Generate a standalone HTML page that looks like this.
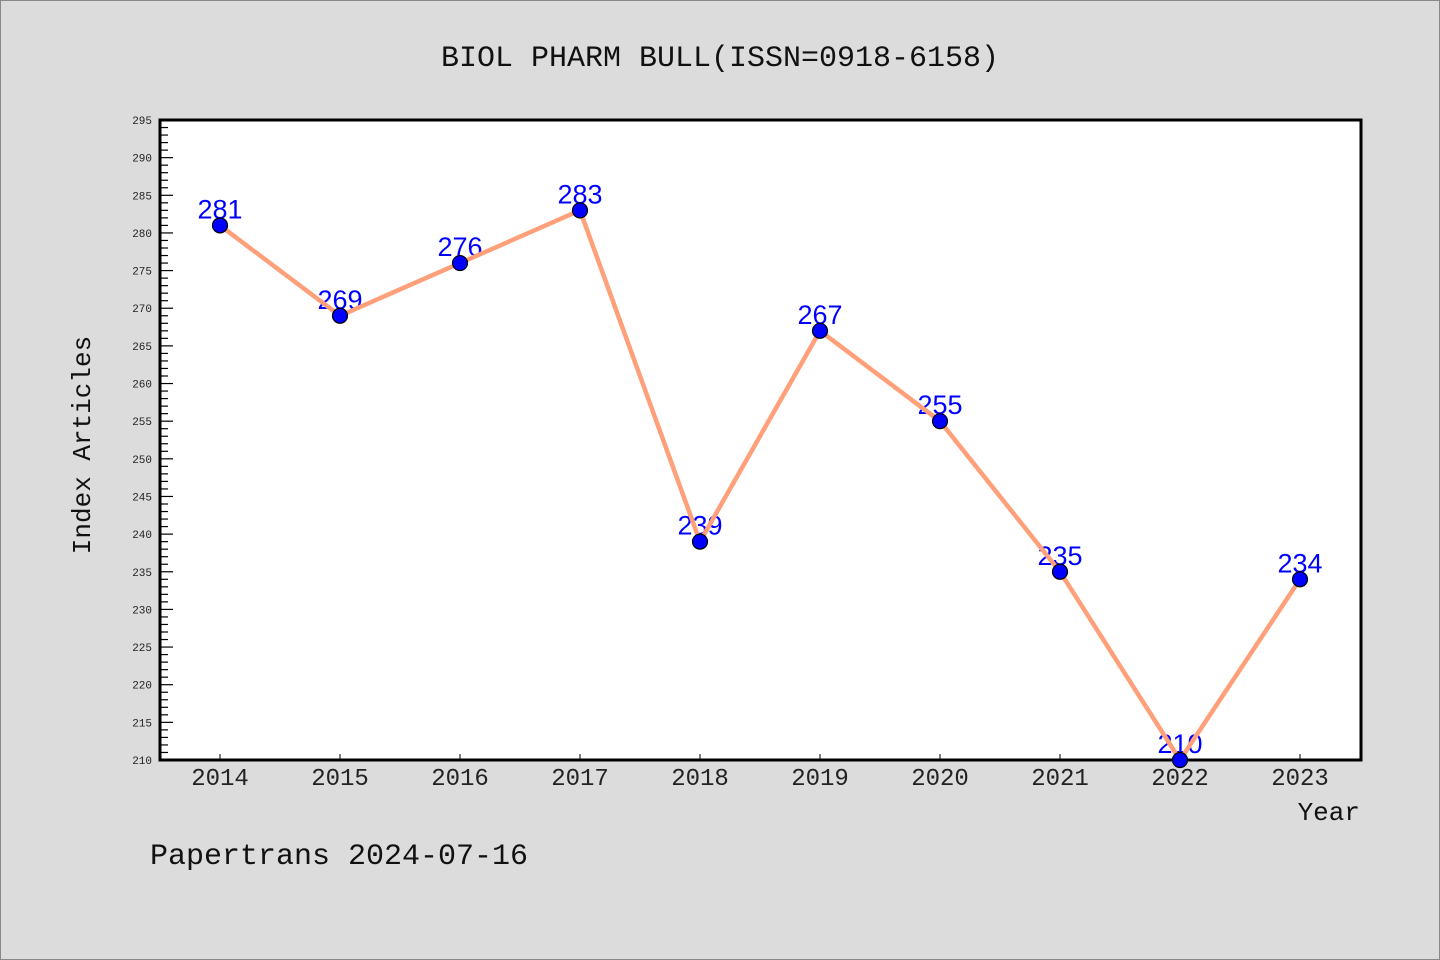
<!DOCTYPE html>
<html><head><meta charset="utf-8"><style>
html,body{margin:0;padding:0;background:#dcdcdc;}
svg{display:block;font-family:"Liberation Mono","DejaVu Sans Mono",monospace;}
</style></head><body>
<svg id="chart" width="1440" height="960">
<rect x="0.5" y="0.5" width="1439" height="959" fill="#dcdcdc" stroke="#888"/>
<text x="720" y="66" text-anchor="middle" font-size="30" fill="#111">BIOL PHARM BULL(ISSN=0918-6158)</text>
<rect x="160" y="120" width="1201" height="640" fill="#fff" stroke="#000" stroke-width="3"/>
<g id="yticks"></g>
<g id="xticks"></g>
<text transform="translate(90,445) rotate(-90)" text-anchor="middle" font-size="26" fill="#111">Index Articles</text>
<text x="1360" y="820" text-anchor="end" font-size="26" fill="#111">Year</text>
<text x="150" y="864" font-size="30" fill="#111">Papertrans 2024-07-16</text>
<g id="labels"></g><g id="line"></g><g id="points"></g>
</svg>
<script>
const years=[2014,2015,2016,2017,2018,2019,2020,2021,2022,2023];
const values=[281,269,276,283,239,267,255,235,210,234];
const yTickLabels=[210,215,220,225,230,235,240,245,250,255,260,265,270,275,280,285,290,295];
const NS="http://www.w3.org/2000/svg";
const yMin=210,yMax=295,plotTop=120,plotBot=760,plotLeft=160;
function ys(v){return plotBot-(v-yMin)/(yMax-yMin)*(plotBot-plotTop);}
function xs(i){return 220+i*120;}
function mk(t,a,p){const e=document.createElementNS(NS,t);for(const k in a)e.setAttribute(k,a[k]);p.appendChild(e);return e;}
const yg=document.getElementById('yticks');
for(let v=yMin;v<=yMax;v++){const major=(v%5===0);
 const l=mk('line',{x1:plotLeft,x2:plotLeft+(major?13:8),y1:ys(v),y2:ys(v),stroke:'#000','stroke-width':1.2},yg);
 
 }
yTickLabels.forEach(v=>{const t=mk('text',{x:152,y:ys(v)+4,'text-anchor':'end','font-size':11,fill:'#222'},yg);t.textContent=v;
 
 });
const xg=document.getElementById('xticks');
years.forEach((y,i)=>{const l=mk('line',{x1:xs(i),x2:xs(i),y1:plotBot,y2:plotBot-6,stroke:'#000','stroke-width':1},xg);
 
 
 const t=mk('text',{x:xs(i),y:plotBot+25,'text-anchor':'middle','font-size':24,fill:'#222'},xg);t.textContent=y;
 
 });
const lg=document.getElementById('labels');
values.forEach((v,i)=>{const t=mk('text',{x:xs(i),y:ys(v)-7,'text-anchor':'middle','font-size':27,fill:'#0000ff','font-family':'Liberation Sans, sans-serif'},lg);t.textContent=v;
 
 });
const p=mk('polyline',{points:values.map((v,i)=>xs(i)+','+ys(v)).join(' '),fill:'none',stroke:'#ffa07a','stroke-width':4.5,'stroke-linejoin':'round'},document.getElementById('line'));


const pg=document.getElementById('points');
values.forEach((v,i)=>{const c=mk('circle',{cx:xs(i),cy:ys(v),r:7.5,fill:'#0000ff',stroke:'#000','stroke-width':1.2},pg);
 
 });
</script>
</body></html>
